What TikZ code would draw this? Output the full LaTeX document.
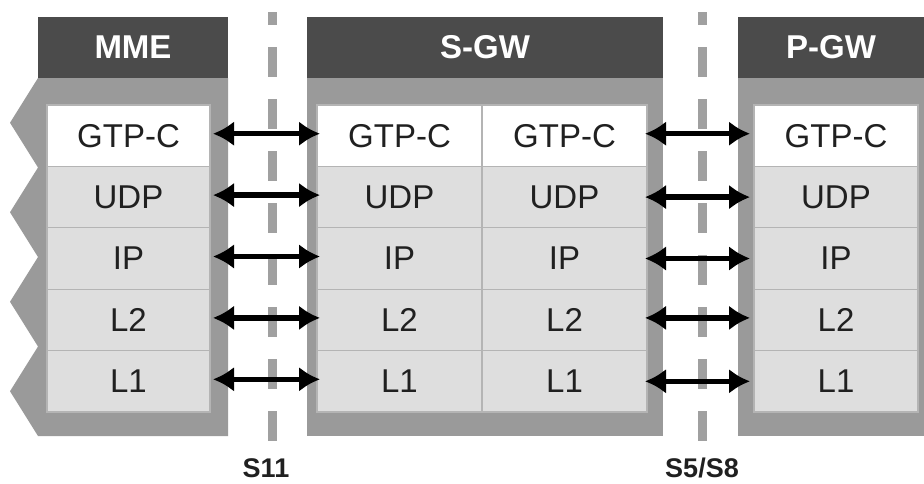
\documentclass[tikz,border=0pt]{standalone}
\usepackage{fontspec}
\setmainfont{Liberation Sans}
\usetikzlibrary{positioning,arrows.meta}

\definecolor{hdrgray}{HTML}{4B4B4B}
\definecolor{bodygray}{HTML}{9A9A9A}
\definecolor{cellgray}{HTML}{DEDEDE}
\definecolor{rulegray}{HTML}{B4B4B4}
\definecolor{ifacegray}{HTML}{A0A0A0}
\definecolor{textdark}{HTML}{202020}

\tikzset{
  hdr/.style={fill=hdrgray, text=white, font=\fontsize{33}{36}\selectfont\bfseries,
    minimum height=61pt, inner sep=0pt, outer sep=0pt, anchor=north west},
  cell/.style={fill=cellgray, draw=rulegray, line width=1.2pt, minimum width=165pt,
    minimum height=61.4pt, inner sep=0pt, outer sep=0pt,
    font=\fontsize{33}{36}\selectfont, text=textdark},
  topcell/.style={cell, fill=white, anchor=north west},
  iface/.style={draw=ifacegray, line width=9pt, dash pattern=on 30pt off 22pt, dash phase=17pt},
  link/.style={<->, >={Latex[length=21pt,width=25pt]}, line width=5.5pt},
  ifacelabel/.style={font=\fontsize{27}{30}\selectfont\bfseries, text=textdark},
}

\begin{document}
\begin{tikzpicture}[x=1pt, y=-1pt]
\useasboundingbox (0,0) rectangle (924,483);
% reference points
\coordinate (s11top) at (272,12);
\coordinate (s11bot) at (272,442);
\coordinate (s5top) at (702,12);
\coordinate (s5bot) at (702,442);
\draw[iface] (s11top) -- (s11bot);
\draw[iface] (s5top) -- (s5bot);
\node[ifacelabel] (s11) at (266,468) {S11};
\node[ifacelabel] (s5) at (702,468) {S5/S8};

% MME
\node[hdr, minimum width=190pt] (mmehdr) at (38,17) {MME};
\fill[bodygray] (mmehdr.south west) -- (mmehdr.south east) -- (228,436) -- (38,436)
  -- (10,391.25) -- (38,346.5) -- (10,301.75) -- (38,257) -- (10,212.25)
  -- (38,167.5) -- (10,122.75) -- cycle;
\node[topcell, minimum width=163pt] (mme1) at (47,105) {GTP-C};
\node[cell, minimum width=163pt, below=0pt of mme1] (mme2) {UDP};
\node[cell, minimum width=163pt, below=0pt of mme2] (mme3) {IP};
\node[cell, minimum width=163pt, below=0pt of mme3] (mme4) {L2};
\node[cell, minimum width=163pt, below=0pt of mme4] (mme5) {L1};

% S-GW
\node[hdr, minimum width=356pt] (sgwhdr) at (307,17) {S-GW};
\fill[bodygray] (sgwhdr.south west) rectangle (663,436);
\node[topcell] (sgwa1) at (317,105) {GTP-C};
\node[cell, below=0pt of sgwa1] (sgwa2) {UDP};
\node[cell, below=0pt of sgwa2] (sgwa3) {IP};
\node[cell, below=0pt of sgwa3] (sgwa4) {L2};
\node[cell, below=0pt of sgwa4] (sgwa5) {L1};
\node[cell, fill=white, right=0pt of sgwa1] (sgwb1) {GTP-C};
\node[cell, below=0pt of sgwb1] (sgwb2) {UDP};
\node[cell, below=0pt of sgwb2] (sgwb3) {IP};
\node[cell, below=0pt of sgwb3] (sgwb4) {L2};
\node[cell, below=0pt of sgwb4] (sgwb5) {L1};

% P-GW
\node[hdr, minimum width=186pt] (pgwhdr) at (738,17) {P-GW};
\fill[bodygray] (pgwhdr.south west) rectangle (924,436);
\node[topcell, minimum width=164pt] (pgw1) at (754,105) {GTP-C};
\node[cell, minimum width=164pt, below=0pt of pgw1] (pgw2) {UDP};
\node[cell, minimum width=164pt, below=0pt of pgw2] (pgw3) {IP};
\node[cell, minimum width=164pt, below=0pt of pgw3] (pgw4) {L2};
\node[cell, minimum width=164pt, below=0pt of pgw4] (pgw5) {L1};

% peer links
\draw[link] ([shift={(3pt,2pt)}]mme1.east) -- ([shift={(3pt,2pt)}]sgwa1.west);
\draw[link] ([shift={(3pt,2pt)}]mme2.east) -- ([shift={(3pt,2pt)}]sgwa2.west);
\draw[link] ([shift={(3pt,2pt)}]mme3.east) -- ([shift={(3pt,2pt)}]sgwa3.west);
\draw[link] ([shift={(3pt,2pt)}]mme4.east) -- ([shift={(3pt,2pt)}]sgwa4.west);
\draw[link] ([shift={(3pt,2pt)}]mme5.east) -- ([shift={(3pt,2pt)}]sgwa5.west);
\draw[link] ([shift={(-2pt,2pt)}]sgwb1.east) -- ([shift={(-4pt,2pt)}]pgw1.west);
\draw[link] ([xshift=-2pt]sgwb2.east) -- ([xshift=-4pt]pgw2.west);
\draw[link] ([xshift=-2pt]sgwb3.east) -- ([xshift=-4pt]pgw3.west);
\draw[link] ([shift={(-2pt,2pt)}]sgwb4.east) -- ([shift={(-4pt,2pt)}]pgw4.west);
\draw[link] ([xshift=-2pt]sgwb5.east) -- ([xshift=-4pt]pgw5.west);
\end{tikzpicture}
\end{document}
